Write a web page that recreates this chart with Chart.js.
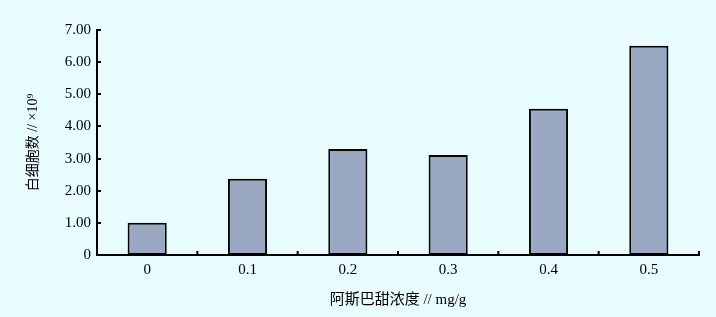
<!DOCTYPE html>
<html><head><meta charset="utf-8">
<script src="https://cdn.jsdelivr.net/npm/chart.js@4/dist/chart.umd.min.js"></script>
<style>
html,body{margin:0;padding:0;background:#e8fbfd;}
#wrap{width:716px;height:317px;}
</style></head>
<body><div id="wrap"><canvas id="c" width="716" height="317"></canvas></div>
<script>
const categories = ['0', '0.1', '0.2', '0.3', '0.4', '0.5'];
const wbcCounts = [1.00, 2.37, 3.30, 3.11, 4.55, 6.51];
const yTickValues = [0, 1, 2, 3, 4, 5, 6, 7];
const yTitle = '白细胞数 // ×10⁹';
const xTitle = '阿斯巴甜浓度 // mg/g';

const FONT = '"Liberation Serif", "Noto Sans CJK SC", serif';

const bgPlugin = {
  id: 'bg',
  beforeDraw(chart) {
    const ctx = chart.ctx;
    ctx.save();
    ctx.fillStyle = '#e8fbfd';
    ctx.fillRect(0, 0, chart.width, chart.height);
    ctx.restore();
  }
};

const innerTicks = {
  id: 'innerTicks',
  afterDraw(chart) {
    const ctx = chart.ctx;
    const xs = chart.scales.x, ys = chart.scales.y;
    ctx.save();
    ctx.strokeStyle = '#000';
    ctx.lineWidth = 2;
    ctx.beginPath();
    yTickValues.forEach(v => {
      const py = Math.round(ys.getPixelForValue(v));
      ctx.moveTo(xs.left, py);
      ctx.lineTo(xs.left + 4, py);
    });
    for (let i = 0; i < categories.length; i++) {
      const px = (xs.getPixelForValue(i) + (i + 1 < categories.length ? xs.getPixelForValue(i + 1) : xs.right + (xs.right - xs.getPixelForValue(i)) - (xs.right - xs.getPixelForValue(i)))) ;
    }
    for (let i = 1; i <= categories.length; i++) {
      const px = i < categories.length ? (xs.getPixelForValue(i - 1) + xs.getPixelForValue(i)) / 2 : xs.right;
      ctx.moveTo(px, ys.bottom);
      ctx.lineTo(px, ys.bottom - 4);
    }
    ctx.stroke();
    ctx.restore();
  }
};

new Chart(document.getElementById('c'), {
  type: 'bar',
  data: {
    labels: categories,
    datasets: [{
      data: wbcCounts,
      backgroundColor: '#9aa8c2',
      borderColor: '#000',
      borderWidth: 2,
      borderSkipped: false,
      categoryPercentage: 1,
      barPercentage: 0.39
    }]
  },
  options: {
    responsive: false,
    animation: false,
    layout: { padding: { left: 0, right: 17, top: 30, bottom: 0 } },
    plugins: { legend: { display: false }, tooltip: { enabled: false } },
    scales: {
      x: {
        grid: { display: false, drawTicks: false },
        border: { display: true, color: '#000', width: 2 },
        ticks: { color: '#000', padding: 6, font: { family: FONT, size: 15 } },
        title: { display: true, text: xTitle, color: '#000', padding: { top: 0, bottom: 8 }, font: { family: FONT, size: 15 } },
        afterFit(s) { s.height = 62; }
      },
      y: {
        min: 0, max: 7,
        afterBuildTicks(s) { s.ticks = yTickValues.map(v => ({ value: v })); },
        grid: { display: false, drawTicks: false },
        border: { display: true, color: '#000', width: 2 },
        ticks: {
          color: '#000', padding: 6, font: { family: FONT, size: 15 },
          callback: v => v === 0 ? '0' : v.toFixed(2)
        },
        title: { display: true, text: yTitle, color: '#000', padding: { top: 25, bottom: 0 }, font: { family: FONT, size: 14 } },
        afterFit(s) { s.width = 97; }
      }
    }
  },
  plugins: [bgPlugin, innerTicks]
});
</script></body></html>
